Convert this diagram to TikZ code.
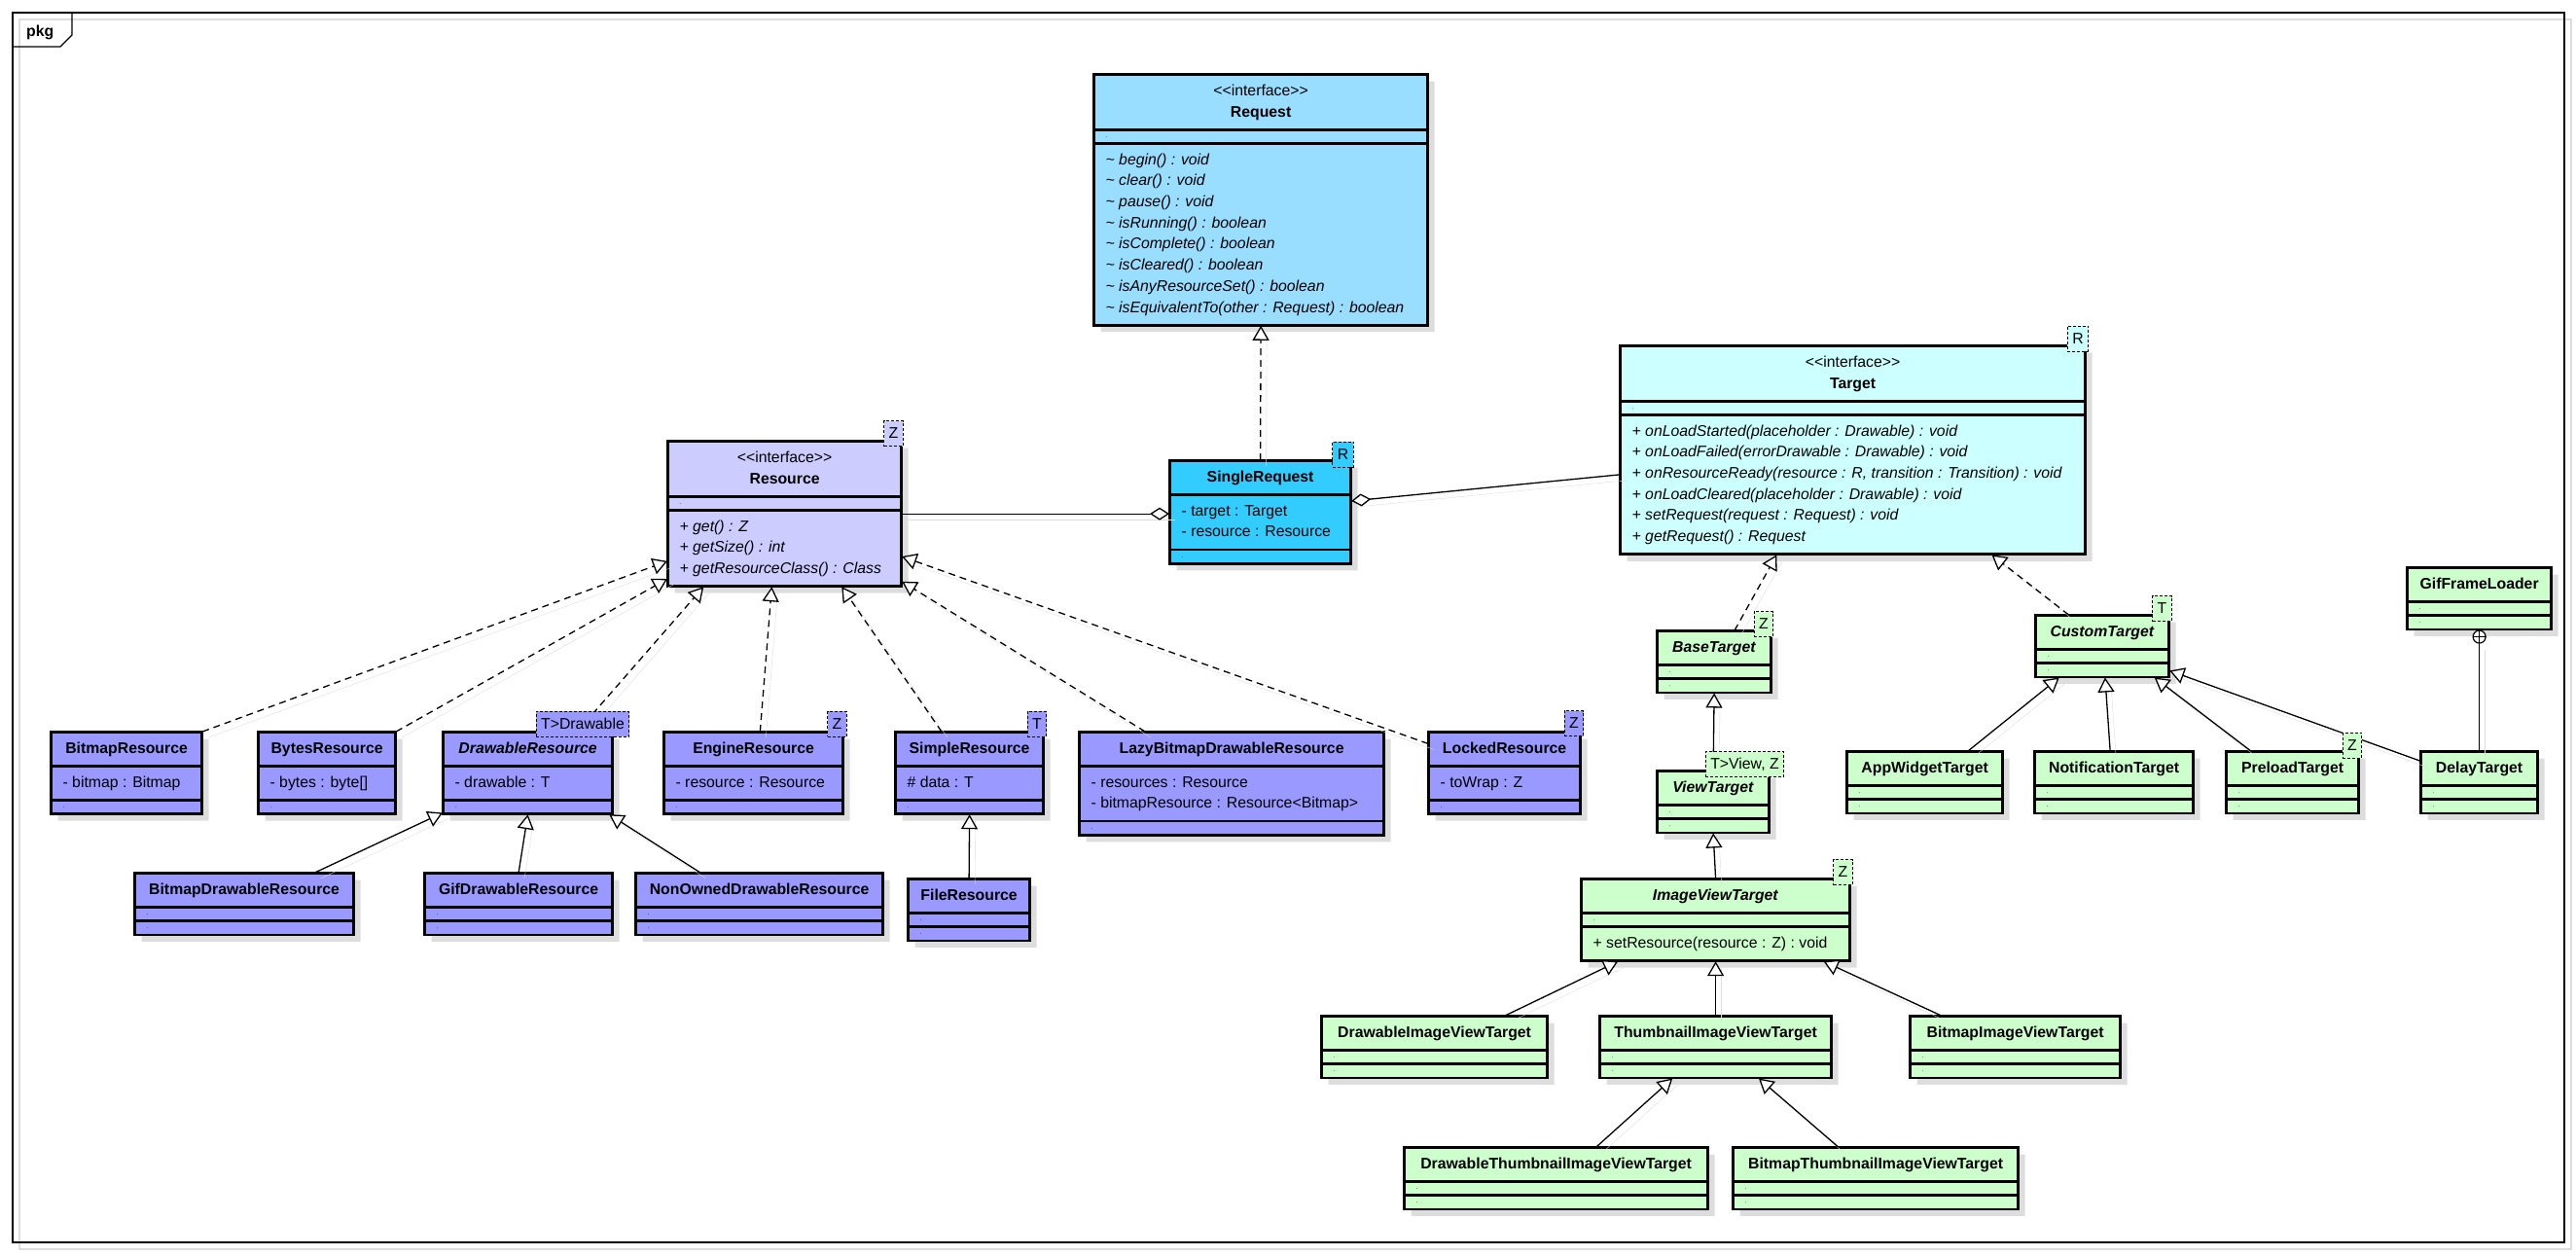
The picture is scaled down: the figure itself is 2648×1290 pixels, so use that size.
\documentclass[tikz,border=0pt]{standalone}
\usepackage{fontspec}
\setmainfont{Liberation Sans}
\usepackage{xcolor}
\usepackage{tikz}
\usetikzlibrary{arrows.meta,shapes.multipart,shadows}

\definecolor{reqblue}{HTML}{99DDFF}
\definecolor{sreqblue}{HTML}{33CCFF}
\definecolor{tgtcyan}{HTML}{CCFFFF}
\definecolor{resiface}{HTML}{CCCCFF}
\definecolor{resimpl}{HTML}{9999FF}
\definecolor{tgtgreen}{HTML}{CCFFCC}
\definecolor{shadowgray}{HTML}{DDDDDD}
\newcommand\nilpart{\rule{.01pt}{1pt}}

\begin{document}
\begin{tikzpicture}[
  x=1pt, y=-1pt,
  execute at begin picture={\fontsize{15.8}{21.7}\selectfont},
  cls/.style={rectangle split, rectangle split parts=3,
              rectangle split part align={center,left,left},
              draw, line width=1.2pt, postaction={draw, line width=2.7pt},
              inner xsep=12pt, inner ysep=6pt, anchor=north west,
              drop shadow={shadow xshift=7pt, shadow yshift=-7pt, fill=shadowgray, opacity=1}},
  tparam/.style={draw, dash pattern=on 3pt off 2pt, line width=1pt,
                 inner xsep=5pt, inner ysep=0pt, minimum height=26pt},
  conn/.style={line width=1.3pt,
               preaction={draw=shadowgray, -, solid, transform canvas={shift={(6pt,-6pt)}}}},
  gen/.style={conn, -{Triangle[length=15pt, width=17pt, fill=white]}},
  real/.style={gen, dash pattern=on 7pt off 5pt},
  agg/.style={conn, -{Diamond[length=20pt, width=13pt, fill=white]}}
]
\useasboundingbox (0,0) rectangle (2648,1290);

\draw[shadowgray, line width=1.2pt] (20,20) rectangle (2643,1284);
\draw[line width=1.2pt] (13,13) rectangle (2636,1277);
\draw[line width=1.2pt] (13,48) -- (62,48) -- (74,36) -- (74,13);
\node[anchor=west, inner sep=0pt, font=\bfseries] (pkg) at (27,33) {pkg};

% request / target interfaces
\node[cls, fill=reqblue, minimum width=343pt] (Request) at (1124,76) {%
  \begin{tabular}{@{}c@{}}<{}<interface>{}>\\\textbf{Request}\end{tabular}%
  \nodepart{two}\nilpart
  \nodepart{three}\itshape
  \begin{tabular}{@{}l@{}}
    \textasciitilde{} begin() : void\\
    \textasciitilde{} clear() : void\\
    \textasciitilde{} pause() : void\\
    \textasciitilde{} isRunning() : boolean\\
    \textasciitilde{} isComplete() : boolean\\
    \textasciitilde{} isCleared() : boolean\\
    \textasciitilde{} isAnyResourceSet() : boolean\\
    \textasciitilde{} isEquivalentTo(other : Request) : boolean
  \end{tabular}};
\node[cls, fill=sreqblue, minimum width=186pt] (SingleRequest) at (1202,473) {%
  \strut\textbf{SingleRequest}%
  \nodepart{two}\begin{tabular}{@{}l@{}}- target : Target\\- resource : Resource\end{tabular}%
  \nodepart{three}\nilpart};
\node[cls, fill=tgtcyan, minimum width=478pt] (Target) at (1665,355) {%
  \begin{tabular}{@{}c@{}}<{}<interface>{}>\\\textbf{Target}\end{tabular}%
  \nodepart{two}\nilpart
  \nodepart{three}\itshape
  \begin{tabular}{@{}l@{}}
    + onLoadStarted(placeholder : Drawable) : void\\
    + onLoadFailed(errorDrawable : Drawable) : void\\
    + onResourceReady(resource : R, transition : Transition) : void\\
    + onLoadCleared(placeholder : Drawable) : void\\
    + setRequest(request : Request) : void\\
    + getRequest() : Request
  \end{tabular}};

% resources
\node[cls, fill=resiface, minimum width=240pt] (Resource) at (686,453) {%
  \begin{tabular}{@{}c@{}}<{}<interface>{}>\\\textbf{Resource}\end{tabular}%
  \nodepart{two}\nilpart
  \nodepart{three}\itshape
  \begin{tabular}{@{}l@{}}
    + get() : Z\\
    + getSize() : int\\
    + getResourceClass() : Class
  \end{tabular}};
\node[cls, fill=resimpl, minimum width=155pt] (BitmapResource) at (52,752)
  {\strut\textbf{BitmapResource}\nodepart{two}\strut- bitmap : Bitmap\nodepart{three}\nilpart};
\node[cls, fill=resimpl, minimum width=141pt] (BytesResource) at (265,752)
  {\strut\textbf{BytesResource}\nodepart{two}\strut- bytes : byte[]\nodepart{three}\nilpart};
\node[cls, fill=resimpl, minimum width=174pt] (DrawableResource) at (455,752)
  {\strut\textbf{\textit{DrawableResource}}\nodepart{two}\strut- drawable : T\nodepart{three}\nilpart};
\node[cls, fill=resimpl, minimum width=184pt] (EngineResource) at (682,752)
  {\strut\textbf{EngineResource}\nodepart{two}\strut- resource : Resource\nodepart{three}\nilpart};
\node[cls, fill=resimpl, minimum width=152pt] (SimpleResource) at (920,752)
  {\strut\textbf{SimpleResource}\nodepart{two}\strut\# data : T\nodepart{three}\nilpart};
\node[cls, fill=resimpl, minimum width=313pt] (LazyBitmapDrawableResource) at (1109,752) {%
  \strut\textbf{LazyBitmapDrawableResource}%
  \nodepart{two}\begin{tabular}{@{}l@{}}- resources : Resource\\- bitmapResource : Resource<Bitmap>\end{tabular}%
  \nodepart{three}\nilpart};
\node[cls, fill=resimpl, minimum width=156pt] (LockedResource) at (1468,752)
  {\strut\textbf{LockedResource}\nodepart{two}\strut- toWrap : Z\nodepart{three}\nilpart};
\node[cls, fill=resimpl, minimum width=225pt] (BitmapDrawableResource) at (138,897)
  {\strut\textbf{BitmapDrawableResource}\nodepart{two}\nilpart\nodepart{three}\nilpart};
\node[cls, fill=resimpl, minimum width=193pt] (GifDrawableResource) at (436,897)
  {\strut\textbf{GifDrawableResource}\nodepart{two}\nilpart\nodepart{three}\nilpart};
\node[cls, fill=resimpl, minimum width=254pt] (NonOwnedDrawableResource) at (653,897)
  {\strut\textbf{NonOwnedDrawableResource}\nodepart{two}\nilpart\nodepart{three}\nilpart};
\node[cls, fill=resimpl, minimum width=125pt] (FileResource) at (933,903)
  {\strut\textbf{FileResource}\nodepart{two}\nilpart\nodepart{three}\nilpart};

% targets
\node[cls, fill=tgtgreen, minimum width=117pt] (BaseTarget) at (1703,648)
  {\strut\textbf{\textit{BaseTarget}}\nodepart{two}\nilpart\nodepart{three}\nilpart};
\node[cls, fill=tgtgreen, minimum width=115pt] (ViewTarget) at (1703,792)
  {\strut\textbf{\textit{ViewTarget}}\nodepart{two}\nilpart\nodepart{three}\nilpart};
\node[cls, fill=tgtgreen, minimum width=276pt] (ImageViewTarget) at (1625,903)
  {\strut\textbf{\textit{ImageViewTarget}}\nodepart{two}\nilpart\nodepart{three}\strut+ setResource(resource : Z) : void};
\node[cls, fill=tgtgreen, minimum width=232pt] (DrawableImageViewTarget) at (1358,1044)
  {\strut\textbf{DrawableImageViewTarget}\nodepart{two}\nilpart\nodepart{three}\nilpart};
\node[cls, fill=tgtgreen, minimum width=238pt] (ThumbnailImageViewTarget) at (1644,1044)
  {\strut\textbf{ThumbnailImageViewTarget}\nodepart{two}\nilpart\nodepart{three}\nilpart};
\node[cls, fill=tgtgreen, minimum width=216pt] (BitmapImageViewTarget) at (1963,1044)
  {\strut\textbf{BitmapImageViewTarget}\nodepart{two}\nilpart\nodepart{three}\nilpart};
\node[cls, fill=tgtgreen, minimum width=312pt] (DrawableThumbnailImageViewTarget) at (1443,1179)
  {\strut\textbf{DrawableThumbnailImageViewTarget}\nodepart{two}\nilpart\nodepart{three}\nilpart};
\node[cls, fill=tgtgreen, minimum width=293pt] (BitmapThumbnailImageViewTarget) at (1781,1179)
  {\strut\textbf{BitmapThumbnailImageViewTarget}\nodepart{two}\nilpart\nodepart{three}\nilpart};
\node[cls, fill=tgtgreen, minimum width=137pt] (CustomTarget) at (2092,632)
  {\strut\textbf{\textit{CustomTarget}}\nodepart{two}\nilpart\nodepart{three}\nilpart};
\node[cls, fill=tgtgreen, minimum width=160pt] (AppWidgetTarget) at (1898,772)
  {\strut\textbf{AppWidgetTarget}\nodepart{two}\nilpart\nodepart{three}\nilpart};
\node[cls, fill=tgtgreen, minimum width=163pt] (NotificationTarget) at (2091,772)
  {\strut\textbf{NotificationTarget}\nodepart{two}\nilpart\nodepart{three}\nilpart};
\node[cls, fill=tgtgreen, minimum width=136pt] (PreloadTarget) at (2288,772)
  {\strut\textbf{PreloadTarget}\nodepart{two}\nilpart\nodepart{three}\nilpart};
\node[cls, fill=tgtgreen, minimum width=120pt] (DelayTarget) at (2488,772)
  {\strut\textbf{DelayTarget}\nodepart{two}\nilpart\nodepart{three}\nilpart};
\node[cls, fill=tgtgreen, minimum width=148pt] (GifFrameLoader) at (2474,583)
  {\strut\textbf{GifFrameLoader}\nodepart{two}\nilpart\nodepart{three}\nilpart};

% connectors
\draw[real] (SingleRequest.north) -- (Request.south);
\draw[agg] (Resource.east) -- (Resource.east -| SingleRequest.west);
\draw[agg] (Target.186) -- (SingleRequest.7);

\draw[real] (BitmapResource.north east) -- (Resource.202);
\draw[real] (BytesResource.north east) -- (Resource.209);
\draw[real] (DrawableResource.40) -- (Resource.222);
\draw[real] (EngineResource.81) -- (Resource.260);
\draw[real] (SimpleResource.124) -- (Resource.308);
\draw[real] (LazyBitmapDrawableResource.149) -- (Resource.330);
\draw[real] (LockedResource.159) -- (Resource.340);
\draw[gen] (BitmapDrawableResource.24) -- (DrawableResource.205);
\draw[gen] (GifDrawableResource.north) -- (DrawableResource.south);
\draw[gen] (NonOwnedDrawableResource.152) -- (DrawableResource.333);
\draw[gen] (FileResource.north) -- (SimpleResource.south);

\draw[real] (BaseTarget.57) -- (Target.234);
\draw[real] (CustomTarget.137) -- (Target.323);
\draw[gen] (ViewTarget.north) -- (BaseTarget.south);
\draw[gen] (ImageViewTarget.north) -- (ViewTarget.south);
\draw[gen] (DrawableImageViewTarget.24) -- (ImageViewTarget.203);
\draw[gen] (ThumbnailImageViewTarget.north) -- (ImageViewTarget.south);
\draw[gen] (BitmapImageViewTarget.157) -- (ImageViewTarget.339);
\draw[gen] (DrawableThumbnailImageViewTarget.38) -- (ThumbnailImageViewTarget.216);
\draw[gen] (BitmapThumbnailImageViewTarget.140) -- (ThumbnailImageViewTarget.324);
\draw[gen] (AppWidgetTarget.36) -- (CustomTarget.216);
\draw[gen] (NotificationTarget.97) -- (CustomTarget.275);
\draw[gen] (PreloadTarget.143) -- (CustomTarget.329);
\draw[gen] (DelayTarget.160) -- (CustomTarget.340);

\node[circle, draw, fill=white, line width=1.2pt, minimum size=13pt, inner sep=0pt,
      anchor=north] (nestmark) at (GifFrameLoader.south) {};
\draw[conn] (DelayTarget.north) -- (nestmark.south);
\draw[line width=1.2pt] (nestmark.north) -- (nestmark.south) (nestmark.west) -- (nestmark.east);

% template parameters
\node[tparam, fill=sreqblue] (SingleRequestR) at (1380.5,467) {R};
\node[tparam, fill=tgtcyan] (TargetR) at (2136,348) {R};
\node[tparam, fill=resiface] (ResourceZ) at (918.5,445.5) {Z};
\node[tparam, fill=resimpl] (DrawableResourceT) at (599,744) {T>Drawable};
\node[tparam, fill=resimpl] (EngineResourceZ) at (860.5,744) {Z};
\node[tparam, fill=resimpl] (SimpleResourceT) at (1066,744) {T};
\node[tparam, fill=resimpl] (LockedResourceZ) at (1618,743.5) {Z};
\node[tparam, fill=tgtgreen] (BaseTargetZ) at (1813,641.5) {Z};
\node[tparam, fill=tgtgreen] (ViewTargetT) at (1793.5,785.5) {T>View, Z};
\node[tparam, fill=tgtgreen] (ImageViewTargetZ) at (1894.5,896.5) {Z};
\node[tparam, fill=tgtgreen] (CustomTargetT) at (2222.5,625.5) {T};
\node[tparam, fill=tgtgreen] (PreloadTargetZ) at (2418,766) {Z};
\end{tikzpicture}
\end{document}
